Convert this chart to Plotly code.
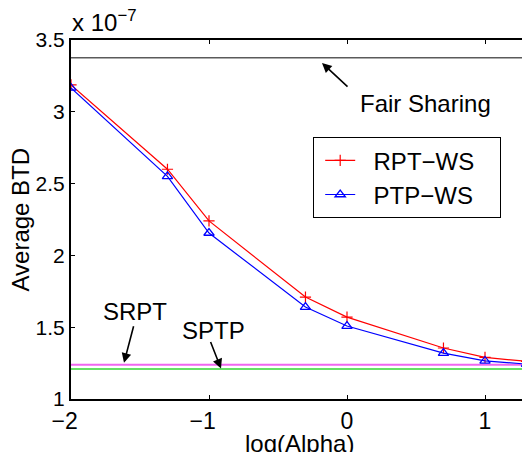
import plotly.graph_objects as go

# Data (Average BTD in units of 1e-7)
log_alpha = [-2, -1.301, -1, -0.301, 0, 0.699, 1, 1.301]
rpt_ws = [3.187, 2.60, 2.24, 1.71, 1.57, 1.355, 1.29, 1.262]
ptp_ws = [3.166, 2.55, 2.156, 1.64, 1.508, 1.32, 1.265, 1.243]
fair_sharing = 3.377
srpt = 1.239
sptp = 1.209
x_span = [-2, 1.301]
x_ticks = [-2, -1, 0, 1]
x_tick_labels = ["\u22122\u00a0\u00a0", "\u22121\u00a0\u00a0", "0", "1"]
y_ticks = [1, 1.5, 2, 2.5, 3, 3.5]
series_names = ["RPT\u2212WS", "PTP\u2212WS"]

FONT = "Liberation Sans, Arial, Helvetica, sans-serif"
PAD_L = "\u00a0\u00a0"
PAD_R = "\u00a0\u00a0\u00a0"

fig = go.Figure()

fig.add_trace(go.Scatter(x=x_span, y=[fair_sharing] * 2, mode="lines",
                         line=dict(color="#5a5a5a", width=1.5), showlegend=False, hoverinfo="skip"))
fig.add_trace(go.Scatter(x=x_span, y=[srpt] * 2, mode="lines",
                         line=dict(color="#f066f0", width=2), showlegend=False, hoverinfo="skip"))
fig.add_trace(go.Scatter(x=x_span, y=[sptp] * 2, mode="lines",
                         line=dict(color="#33d633", width=1.5), showlegend=False, hoverinfo="skip"))

fig.add_trace(go.Scatter(x=log_alpha, y=rpt_ws, mode="lines+markers", name=PAD_L + series_names[0] + PAD_R,
                         line=dict(color="#ff0000", width=1.2),
                         marker=dict(symbol="cross-thin", size=8, line=dict(color="#ff0000", width=1.2))))
fig.add_trace(go.Scatter(x=log_alpha, y=ptp_ws, mode="lines+markers", name=PAD_L + series_names[1] + PAD_R,
                         line=dict(color="#0000ff", width=1.2),
                         marker=dict(symbol="triangle-up-open", size=9, line=dict(color="#0000ff", width=1.3))))

anns = []
# arrows
for (tx, ty, ax, ay) in [(-0.181, 3.34, 27, 25), (-1.616, 1.252, 10, -38), (-0.913, 1.212, -11, -28)]:
    anns.append(dict(x=tx, y=ty, xref="x", yref="y", ax=ax, ay=ay, text="", showarrow=True,
                     arrowhead=2, arrowsize=1.2, arrowwidth=1.6, arrowcolor="black"))
anns.append(dict(x=0.08, y=3.061, xref="x", yref="y", text="Fair Sharing", showarrow=False,
                 xanchor="left", yanchor="middle", font=dict(size=24, color="black", family=FONT)))
anns.append(dict(x=-1.533, y=1.606, xref="x", yref="y", text="SRPT", showarrow=False,
                 xanchor="center", yanchor="middle", font=dict(size=24, color="black", family=FONT)))
anns.append(dict(x=-0.964, y=1.48, xref="x", yref="y", text="SPTP", showarrow=False,
                 xanchor="center", yanchor="middle", font=dict(size=24, color="black", family=FONT)))
# axis titles
anns.append(dict(x=(299 - 71) / 451, y=-(443 - 399) / 359, xref="paper", yref="paper",
                 text="log(Alpha)", showarrow=False, xanchor="center", yanchor="middle",
                 font=dict(size=24, color="black", family=FONT)))
anns.append(dict(x=(20 - 71) / 451, y=0.5, xref="paper", yref="paper", text="Average BTD",
                 textangle=-90, showarrow=False, xanchor="center", yanchor="middle",
                 font=dict(size=24, color="black", family=FONT)))
anns.append(dict(x=(70 - 71) / 451, y=1 + (40 - 38) / 359, xref="paper", yref="paper",
                 text="x 10<sup>\u22127</sup>", showarrow=False, xanchor="left", yanchor="bottom",
                 font=dict(size=24, color="black", family=FONT)))

fig.update_layout(
    width=522, height=452,
    margin=dict(l=71, r=0, t=40, b=53),
    paper_bgcolor="white", plot_bgcolor="white",
    font=dict(family=FONT, color="black"),
    annotations=anns,
    legend=dict(x=(313 - 71) / 451, y=1 - (137 - 40) / 359, xanchor="left", yanchor="top",
                indentation=6,
                bgcolor="white", bordercolor="black", borderwidth=1.2,
                font=dict(size=24, color="black", family=FONT)),
    xaxis=dict(range=[-2, -2 + (522 - 71) / 138], tickvals=x_ticks, ticktext=x_tick_labels,
               showgrid=False, zeroline=False,
               showline=True, linecolor="black", linewidth=2, mirror="ticks",
               ticks="inside", ticklen=4, tickwidth=1, tickcolor="black",
               tickfont=dict(size=23, family=FONT, color="black")),
    yaxis=dict(range=[1, 3.5], tickvals=y_ticks, showgrid=False, zeroline=False,
               showline=True, linecolor="black", linewidth=2,
               ticks="inside", ticklen=4, tickwidth=1, tickcolor="black",
               tickfont=dict(size=21, family=FONT, color="black")),
)

fig.write_html("out.html")
